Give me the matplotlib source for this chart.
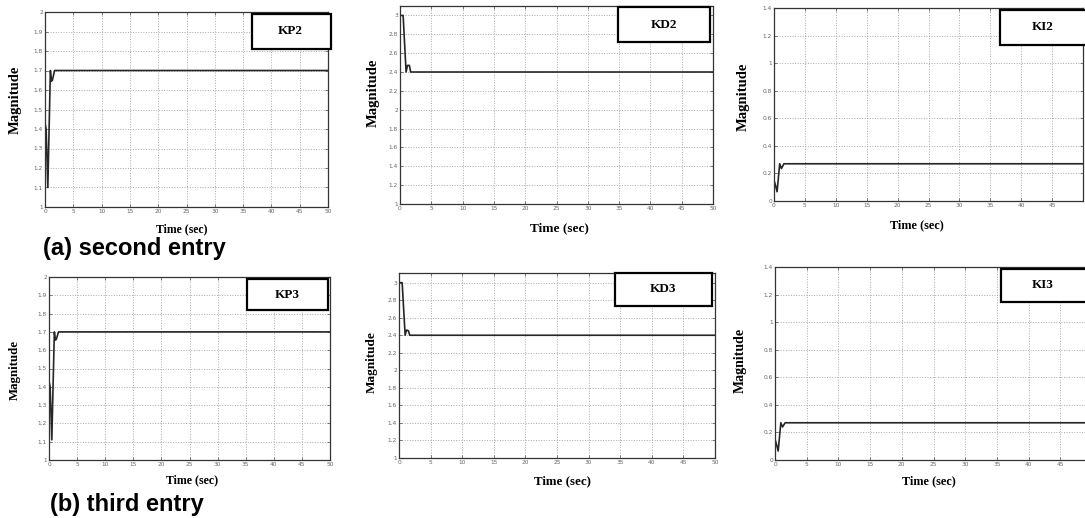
import matplotlib.pyplot as plt
from matplotlib.patches import Rectangle

W, H = 1085, 518

# ---------------------------------------------------------
# DATA
# ---------------------------------------------------------
t_kp = [0, 0.2, 0.5, 0.95, 1.15, 1.3, 1.7, 50]
kp2 = [1.43, 1.40, 1.10, 1.70, 1.645, 1.65, 1.70, 1.70]
kp3 = [1.43, 1.40, 1.11, 1.70, 1.655, 1.66, 1.70, 1.70]

t_kd = [0, 0.5, 0.97, 1.2, 1.5, 1.7, 50]
kd2 = [3.0, 3.0, 2.40, 2.47, 2.47, 2.40, 2.40]
kd3 = [3.0, 3.0, 2.40, 2.46, 2.45, 2.40, 2.40]

t_ki = [0, 0.2, 0.5, 0.92, 1.2, 1.6, 50]
ki2 = [0.15, 0.12, 0.067, 0.27, 0.235, 0.27, 0.27]
ki3 = [0.15, 0.12, 0.065, 0.27, 0.24, 0.27, 0.27]

x_ticks = list(range(0, 51, 5))
kp_ticks = [1, 1.1, 1.2, 1.3, 1.4, 1.5, 1.6, 1.7, 1.8, 1.9, 2]
kd_ticks = [1, 1.2, 1.4, 1.6, 1.8, 2, 2.2, 2.4, 2.6, 2.8, 3]
ki_ticks = [0, 0.2, 0.4, 0.6, 0.8, 1, 1.2, 1.4]

# ---------------------------------------------------------
# LAYOUT, in pixels of the 1085x518 picture
# ax  = (left, top, right, bottom) of the axes
# box = (left, top, right, bottom) of the name box, name_x = text centre
# ---------------------------------------------------------
PANELS = [
    dict(ax=(45, 12, 328, 207), ylim=(1, 2), t=t_kp, y=kp2, yt=kp_ticks, name="KP2",
         box=(252, 14, 331, 49), name_x=290, ylab=(15, 100), xlab=(182, 229),
         fs_y=10.5, fs_x=8.5),
    dict(ax=(400, 6, 713, 204), ylim=(1, 3.1), t=t_kd, y=kd2, yt=kd_ticks, name="KD2",
         box=(618, 7, 710, 42), name_x=664, ylab=(373, 93), xlab=(559, 228),
         fs_y=10.5, fs_x=9.5),
    dict(ax=(774, 8, 1083, 201), ylim=(0, 1.4), t=t_ki, y=ki2, yt=ki_ticks, name="KI2",
         box=(1000, 10, 1100, 45), name_x=1043, ylab=(743, 97), xlab=(917, 225),
         fs_y=10.5, fs_x=8.8),
    dict(ax=(49, 277, 330, 460), ylim=(1, 2), t=t_kp, y=kp3, yt=kp_ticks, name="KP3",
         box=(247, 279, 328, 310), name_x=287, ylab=(15, 370), xlab=(192, 480),
         fs_y=9.3, fs_x=8.6),
    dict(ax=(399, 273, 715, 458), ylim=(1, 3.11), t=t_kd, y=kd3, yt=kd_ticks, name="KD3",
         box=(615, 273, 712, 306), name_x=663, ylab=(372, 362), xlab=(563, 481),
         fs_y=9.5, fs_x=9.3),
    dict(ax=(775, 267, 1092, 460), ylim=(0, 1.4), t=t_ki, y=ki3, yt=ki_ticks, name="KI3",
         box=(1001, 269, 1100, 302), name_x=1043, ylab=(740, 360), xlab=(929, 481),
         fs_y=10, fs_x=8.8),
]

SERIF = ["Liberation Serif", "DejaVu Serif"]
SANS = ["Liberation Sans", "DejaVu Sans"]


def fx(px):
    return px / W


def fy(py):
    return 1 - py / H


def fmt(v):
    return f"{v:g}"


fig = plt.figure(figsize=(W / 100, H / 100), dpi=100, facecolor="white")

for p in PANELS:
    l, t, r, b = p["ax"]
    ax = fig.add_axes([fx(l), fy(b), (r - l) / W, (b - t) / H])
    ax.plot(p["t"], p["y"], color="#262626", linewidth=1.2)
    ax.set_xlim(0, 50)
    ax.set_ylim(*p["ylim"])
    ax.set_xticks(x_ticks)
    # the right-hand panels are cropped at the picture edge: drop labels past it
    xlabels = []
    for v in x_ticks:
        px = l + (r - l) * v / 50
        xlabels.append(fmt(v) if px < W - 2 else "")
    ax.set_xticklabels(xlabels)
    ax.set_yticks(p["yt"])
    ax.set_yticklabels([fmt(v) for v in p["yt"]])
    ax.tick_params(direction="in", length=2, width=0.6, labelsize=4.2,
                   colors="#666666", pad=1.5, top=True, right=True)
    ax.grid(True, color="#a8a8a8", linestyle=":", linewidth=0.7)
    for spine in ax.spines.values():
        spine.set_edgecolor("#333333")
        spine.set_linewidth(0.9)

    # name box drawn on the figure, like a pasted text box
    bl, bt, br, bb = p["box"]
    fig.add_artist(Rectangle((fx(bl), fy(bb)), (br - bl) / W, (bb - bt) / H,
                             transform=fig.transFigure, facecolor="white",
                             edgecolor="black", linewidth=1.6, zorder=5))
    fig.text(fx(p["name_x"]), fy((bt + bb) / 2), p["name"], ha="center", va="center",
             fontsize=9.5, fontweight="bold", family=SERIF, zorder=6)

    fig.text(fx(p["ylab"][0]), fy(p["ylab"][1]), "Magnitude", rotation=90,
             ha="center", va="center", fontsize=p["fs_y"], fontweight="bold",
             family=SERIF)
    fig.text(fx(p["xlab"][0]), fy(p["xlab"][1]), "Time (sec)", ha="center",
             va="center", fontsize=p["fs_x"], fontweight="bold", family=SERIF)

fig.text(fx(43), fy(249), "(a) second entry", ha="left", va="center",
         fontsize=17, fontweight="bold", family=SANS)
fig.text(fx(50), fy(504), "(b) third entry", ha="left", va="center",
         fontsize=17, fontweight="bold", family=SANS)

fig.savefig("out.png", dpi=100, facecolor="white")
